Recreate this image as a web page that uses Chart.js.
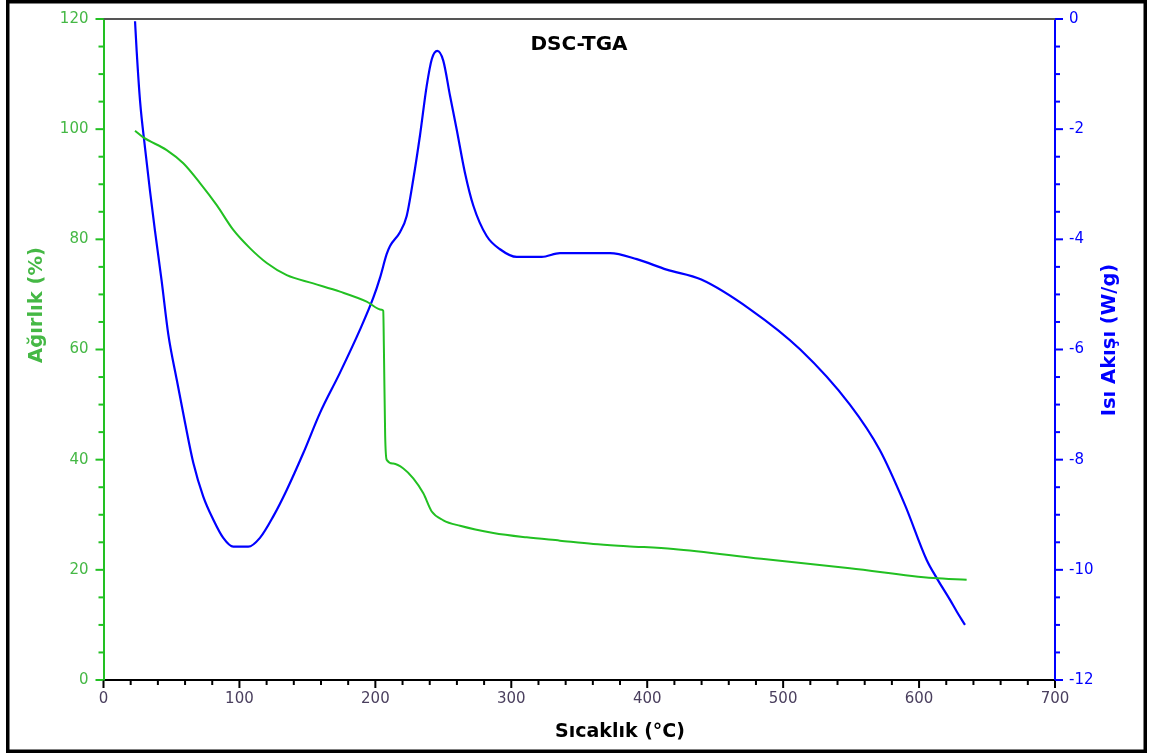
<!DOCTYPE html>
<html>
<head>
<meta charset="utf-8">
<title>DSC-TGA</title>
<script src="https://cdn.jsdelivr.net/npm/chart.js@4.4.1/dist/chart.umd.min.js"></script>
<style>
  html, body { margin: 0; padding: 0; background: #fff; }
  #wrap { width: 1152px; height: 756px; }
</style>
</head>
<body>
<div id="wrap"><canvas id="c" width="1152" height="756"></canvas></div>
<script>
// Temperature (°C) and weight (%) — TGA curve
const tgaTemp = [23.2, 29.3, 46.5, 58.7, 71.0, 83.3, 95.5, 107.7, 120.1, 134.8, 154.3, 174.0, 193.6, 204.7,
  205.8, 206.3, 207.2, 208.3, 213.2, 220.6, 227.9, 235.3, 241.5, 250.0, 262.3, 286.8, 311.3, 335.8,
  360.3, 384.9, 419.2, 484.0, 549.1, 610.5, 635.0];
const tgaWeight = [99.7, 98.5, 96.2, 93.8, 90.2, 86.2, 81.7, 78.4, 75.7, 73.5, 72.0, 70.5, 68.7, 67.2,
  67.0, 60.0, 44.5, 40.0, 39.3, 38.4, 36.6, 33.9, 30.6, 29.0, 28.0, 26.7, 25.9, 25.3,
  24.7, 24.3, 23.8, 22.0, 20.3, 18.5, 18.2];

// Temperature (°C) and heat flow (W/g) — DSC curve
const dscTemp = [23.2, 24.4, 26.9, 30.5, 34.2, 37.9, 42.8, 47.7, 53.9, 60.0, 66.1, 73.4, 80.8, 88.1,
  95.5, 106.5, 115.1, 124.9, 134.8, 147.0, 159.3, 174.0, 188.7, 198.5, 203.4, 208.3, 210.8, 218.1,
  223.0, 227.9, 232.8, 237.8, 241.5, 245.6, 250.0, 254.9, 259.8, 265.9, 272.1, 281.9, 291.7, 304.0,
  322.4, 335.8, 372.6, 392.3, 414.3, 439.8, 475.7, 512.6, 549.1, 571.0, 589.6, 605.6, 613.0, 622.9,
  627.8, 633.8];
const dscHeat = [-0.04, -0.58, -1.49, -2.33, -3.12, -3.85, -4.76, -5.73, -6.55, -7.33, -8.06, -8.67, -9.09, -9.42,
  -9.58, -9.58, -9.42, -9.03, -8.55, -7.88, -7.15, -6.42, -5.64, -5.06, -4.70, -4.27, -4.12, -3.87,
  -3.58, -2.91, -2.12, -1.21, -0.73, -0.58, -0.76, -1.39, -2.00, -2.79, -3.39, -3.94, -4.18, -4.32,
  -4.32, -4.25, -4.25, -4.36, -4.55, -4.73, -5.27, -6.00, -7.00, -7.82, -8.82, -9.82, -10.15, -10.55,
  -10.76, -11.00];

// Axis ranges and tick spacing
const xRange = [0, 700], xMajor = 100, xMinor = 20;
const wRange = [0, 120], wMajor = 20, wMinor = 5;
const hRange = [-12, 0], hMajor = 2, hMinor = 0.5;

const GREEN = '#22c022';
const GREEN_TXT = '#45b845';
const BLUE = '#0000ff';
const FONT = '"DejaVu Sans", Verdana, sans-serif';

const tgaPoints = tgaTemp.map((t, i) => ({ x: t, y: tgaWeight[i] }));
const dscPoints = dscTemp.map((t, i) => ({ x: t, y: dscHeat[i] }));

// Fixed axis box sizes so the plot area sits where it should
const fixVertical = width => s => { s.width = width; s.paddingTop = 0; s.paddingBottom = 0; };

// Tick marks, plot frame, titles and the outer border
const decorations = {
  id: 'decorations',
  beforeDraw(chart) {
    const ctx = chart.ctx;
    ctx.save();
    ctx.fillStyle = '#fff';
    ctx.fillRect(0, 0, chart.width, chart.height);
    ctx.restore();
  },
  afterDraw(chart) {
    const ctx = chart.ctx;
    const a = chart.chartArea;
    const sx = chart.scales.x, sy = chart.scales.y, sy1 = chart.scales.y1;
    ctx.save();

    // top edge of the plot
    ctx.strokeStyle = '#555';
    ctx.lineWidth = 2;
    ctx.beginPath();
    ctx.moveTo(a.left, a.top);
    ctx.lineTo(a.right, a.top);
    ctx.stroke();

    const tick = (x1, y1, x2, y2, color) => {
      ctx.strokeStyle = color;
      ctx.lineWidth = 2;
      ctx.beginPath();
      ctx.moveTo(x1, y1);
      ctx.lineTo(x2, y2);
      ctx.stroke();
    };
    // bottom axis ticks
    for (let v = xRange[0]; v <= xRange[1] + 1e-9; v += xMinor) {
      const p = sx.getPixelForValue(v);
      const len = Math.abs(v / xMajor - Math.round(v / xMajor)) < 1e-6 ? 8 : 5;
      tick(p, a.bottom, p, a.bottom + len, '#000');
    }
    // left axis ticks
    for (let v = wRange[0]; v <= wRange[1] + 1e-9; v += wMinor) {
      const p = sy.getPixelForValue(v);
      const len = Math.abs(v / wMajor - Math.round(v / wMajor)) < 1e-6 ? 8 : 5;
      tick(a.left, p, a.left - len, p, GREEN);
    }
    // right axis ticks
    for (let v = hRange[0]; v <= hRange[1] + 1e-9; v += hMinor) {
      const p = sy1.getPixelForValue(v);
      const len = Math.abs(v / hMajor - Math.round(v / hMajor)) < 1e-6 ? 8 : 5;
      tick(a.right, p, a.right + len, p, BLUE);
    }

    // chart title
    ctx.fillStyle = '#000';
    ctx.font = 'bold 20px ' + FONT;
    ctx.textAlign = 'center';
    ctx.textBaseline = 'middle';
    ctx.fillText('DSC-TGA', 579, 45);

    // x axis title
    ctx.font = 'bold 19px ' + FONT;
    ctx.fillText('Sıcaklık (°C)', 620, 732);

    // left axis title
    ctx.save();
    ctx.translate(37, 305);
    ctx.rotate(-Math.PI / 2);
    ctx.fillStyle = GREEN_TXT;
    ctx.font = 'bold 19.5px ' + FONT;
    ctx.fillText('Ağırlık (%)', 0, 0);
    ctx.restore();

    // right axis title
    ctx.save();
    ctx.translate(1110, 340);
    ctx.rotate(-Math.PI / 2);
    ctx.fillStyle = BLUE;
    ctx.font = 'bold 19.5px ' + FONT;
    ctx.fillText('Isı Akışı (W/g)', 0, 0);
    ctx.restore();

    // outer border
    ctx.strokeStyle = '#000';
    ctx.lineWidth = 3.5;
    ctx.strokeRect(7.75, 1.75, 1137.5, 749.5);

    ctx.restore();
  }
};

new Chart(document.getElementById('c'), {
  type: 'line',
  data: {
    datasets: [
      {
        label: 'Ağırlık (%)',
        data: tgaPoints,
        yAxisID: 'y',
        borderColor: GREEN,
        borderWidth: 2,
        pointRadius: 0,
        fill: false,
        cubicInterpolationMode: 'monotone'
      },
      {
        label: 'Isı Akışı (W/g)',
        data: dscPoints,
        yAxisID: 'y1',
        borderColor: BLUE,
        borderWidth: 2.2,
        pointRadius: 0,
        fill: false,
        cubicInterpolationMode: 'monotone'
      }
    ]
  },
  options: {
    responsive: false,
    devicePixelRatio: 1,
    animation: false,
    layout: { padding: { top: 19, left: 0, right: 0, bottom: 0 } },
    plugins: {
      legend: { display: false },
      title: { display: false },
      tooltip: { enabled: false }
    },
    scales: {
      x: {
        type: 'linear',
        position: 'bottom',
        min: xRange[0],
        max: xRange[1],
        grid: { display: false, drawTicks: false },
        border: { display: true, color: '#000', width: 2 },
        ticks: { stepSize: xMajor, color: '#4a3f5e', font: { family: FONT, size: 15 }, padding: 10, maxRotation: 0 },
        afterFit: s => { s.height = 76; }
      },
      y: {
        type: 'linear',
        position: 'left',
        min: wRange[0],
        max: wRange[1],
        grid: { display: false, drawTicks: false },
        border: { display: true, color: GREEN, width: 2 },
        ticks: { stepSize: wMajor, color: GREEN_TXT, font: { family: FONT, size: 15 }, padding: 15 },
        afterFit: fixVertical(103.5)
      },
      y1: {
        type: 'linear',
        position: 'right',
        min: hRange[0],
        max: hRange[1],
        grid: { display: false, drawTicks: false },
        border: { display: true, color: BLUE, width: 2 },
        ticks: { stepSize: hMajor, color: BLUE, font: { family: FONT, size: 15 }, padding: 14 },
        afterFit: fixVertical(97)
      }
    }
  },
  plugins: [decorations]
});
</script>
</body>
</html>
